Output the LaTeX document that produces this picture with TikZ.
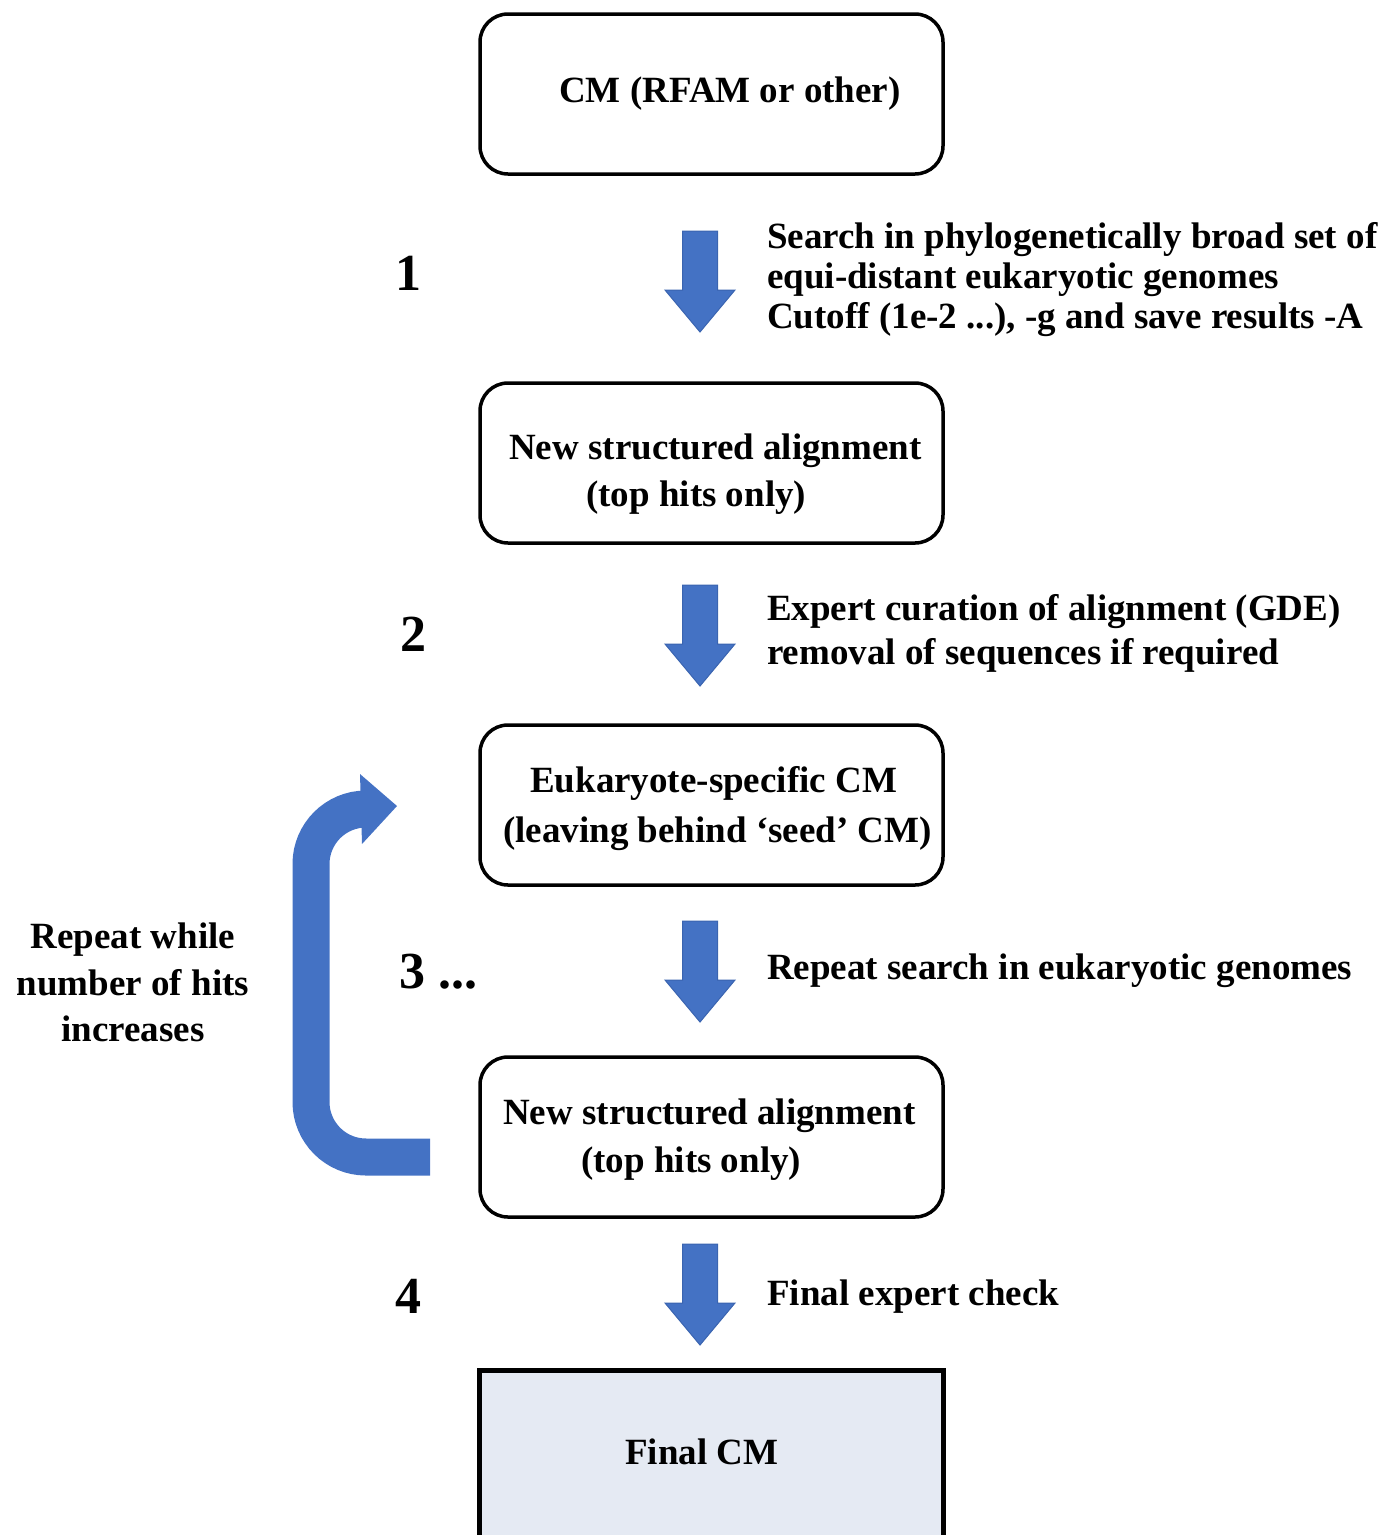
\documentclass[tikz,border=0pt]{standalone}
\usepackage{fontspec}
\setmainfont{Liberation Serif}
\definecolor{arrowblue}{HTML}{4472C4}
\definecolor{arrowedge}{HTML}{3A64B0}
\definecolor{finalfill}{HTML}{E5EAF3}
\begin{document}
\begin{tikzpicture}[x=1pt,y=-1pt,
  box/.style={draw=black, line width=3.5pt, rounded corners=28pt, minimum width=463pt, minimum height=160pt, inner sep=0pt},
  finalbox/.style={draw=black, fill=finalfill, line width=5pt, minimum width=464pt, minimum height=180pt, inner sep=0pt},
  txt/.style={font=\bfseries\fontsize{37}{40}\selectfont, anchor=base west, inner sep=0pt},
  ctxt/.style={font=\bfseries\fontsize{37}{40}\selectfont, anchor=base, inner sep=0pt},
  num/.style={font=\bfseries\fontsize{52}{56}\selectfont, anchor=base west, inner sep=0pt},
  downarrow/.pic={\fill[arrowblue, draw=arrowedge, line width=1pt] (-17.5,0) -- (17.5,0) -- (17.5,59) -- (35,59) -- (0,101) -- (-35,59) -- (-17.5,59) -- cycle;}
]
\useasboundingbox (0,0) rectangle (1387,1535);
\clip (0,0) rectangle (1387,1535);

% boxes
\node[box] (b1) at (711.5,94) {};
\node[box] (b2) at (711.5,463) {};
\node[box] (b3) at (711.5,805) {};
\node[box] (b4) at (711.5,1137) {};
\node[finalbox] (b5) at (711.5,1460) {};

% box texts
\node[txt] (t1) at (559,102) {CM (RFAM or other)};
\node[txt] (t2a) at (509,459) {New structured alignment};
\node[txt] (t2b) at (586,506) {(top hits only)};
\node[txt] (t3a) at (530,792) {Eukaryote-specific CM};
\node[txt] (t3b) at (503,842) {(leaving behind ‘seed’ CM)};
\node[txt] (t4a) at (503,1124) {New structured alignment};
\node[txt] (t4b) at (581,1172) {(top hits only)};
\node[txt] (t5) at (625,1464) {Final CM};

% block arrows
\pic (a1) at (700,231) {downarrow};
\pic (a2) at (700,585) {downarrow};
\pic (a3) at (700,921) {downarrow};
\pic (a4) at (700,1244) {downarrow};

% step numbers
\node[num] (n1) at (395,290) {1};
\node[num] (n2) at (400,651) {2};
\node[num] (n3) at (399,988) {3 ...};
\node[num] (n4) at (395,1313) {4};

% step descriptions
\node[txt] (d1a) at (767,248) {Search in phylogenetically broad set of};
\node[txt] (d1b) at (767,288) {equi-distant eukaryotic genomes};
\node[txt] (d1c) at (767,328) {Cutoff (1e-2 ...), -g and save results -A};
\node[txt] (d2a) at (767,620) {Expert curation of alignment (GDE)};
\node[txt] (d2b) at (767,664) {removal of sequences if required};
\node[txt] (d3) at (767,979) {Repeat search in eukaryotic genomes};
\node[txt] (d4) at (767,1305) {Final expert check};

% loop text
\node[ctxt] (r1) at (133,948) {Repeat while};
\node[ctxt] (r2) at (133,995) {number of hits};
\node[ctxt] (r3) at (133,1041) {increases};

% loop arrow
\coordinate (loopstart) at (430,1157);
\coordinate (loopend) at (362,809);
\draw[arrowblue, line width=37pt, rounded corners=55pt] (loopstart) -- (311,1157) -- (311,809) -- (loopend);
\fill[arrowblue] (360,774) -- (397,806) -- (362,844) -- cycle;
\end{tikzpicture}
\end{document}
